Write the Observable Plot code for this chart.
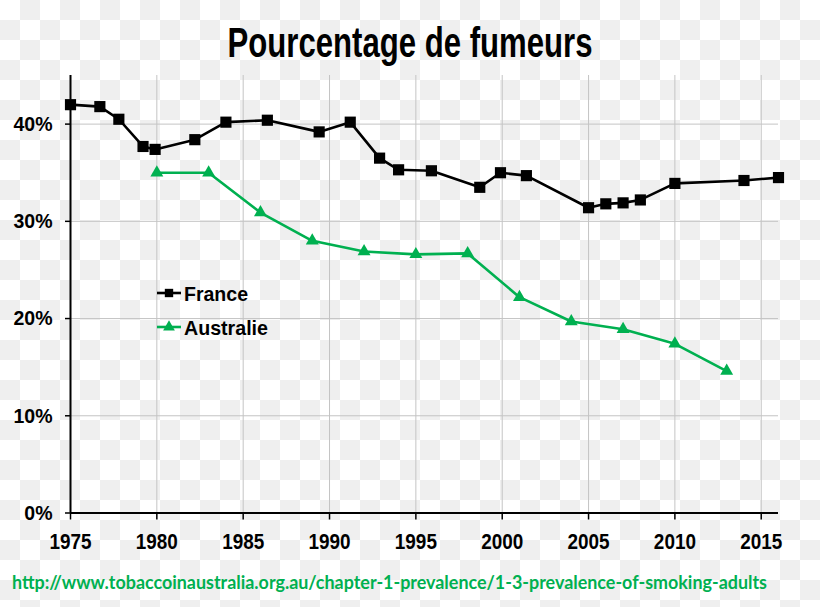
<!DOCTYPE html>
<html>
<head>
<meta charset="utf-8">
<script src="https://cdn.jsdelivr.net/npm/d3@7"></script>
<script src="https://cdn.jsdelivr.net/npm/@observablehq/plot@0.6"></script>
<style>
  html, body { margin: 0; padding: 0; }
  #wrap {
    position: relative; width: 820px; height: 607px; overflow: hidden;
    background-image: conic-gradient(#efefef 0 25%, #ffffff 0 50%, #efefef 0 75%, #ffffff 0);
    background-size: 40px 40px;
    font-family: "Liberation Sans", Arial, sans-serif;
  }
  #chart { position: absolute; left: 0; top: 60px; }
  #overlay { position: absolute; left: 0; top: 0; pointer-events: none; }
</style>
</head>
<body>
<div id="wrap">
  <div id="chart"></div>
  <svg id="overlay" width="820" height="607"></svg>
</div>
<script>
// ---- data ----
const franceYears  = [1975, 1976.7, 1977.8, 1979.2, 1979.9, 1982.2, 1984, 1986.4, 1989.4, 1991.2, 1992.9, 1994, 1995.9, 1998.7, 1999.9, 2001.4, 2005, 2006, 2007, 2008, 2010, 2014, 2016];
const franceValues = [42.0, 41.8, 40.5, 37.7, 37.4, 38.4, 40.2, 40.4, 39.2, 40.2, 36.5, 35.3, 35.2, 33.5, 35.0, 34.7, 31.4, 31.8, 31.9, 32.2, 33.9, 34.2, 34.5];
const ausYears  = [1980, 1983, 1986, 1989, 1992, 1995, 1998, 2001, 2004, 2007, 2010, 2013];
const ausValues = [35.0, 35.0, 30.9, 28.0, 26.9, 26.6, 26.7, 22.2, 19.7, 18.9, 17.4, 14.6];
const xTicks = [1975, 1980, 1985, 1990, 1995, 2000, 2005, 2010, 2015];
const yTicks = [0, 10, 20, 30, 40];
const seriesNames = ["France", "Australie"];
const titleText = "Pourcentage de fumeurs";
const sourceText = "http://www.tobaccoinaustralia.org.au/chapter-1-prevalence/1-3-prevalence-of-smoking-adults";

const GREEN = "#00b050";
const france = franceYears.map((y, i) => ({year: y, value: franceValues[i]}));
const aus = ausYears.map((y, i) => ({year: y, value: ausValues[i]}));

const plot = Plot.plot({
  width: 820,
  height: 500,
  marginTop: 15,
  marginBottom: 47.5,
  marginLeft: 70,
  marginRight: 42,
  style: {background: "transparent", fontFamily: "Liberation Sans, Arial, sans-serif", color: "black", overflow: "visible"},
  x: {domain: [1975, 2016]},
  y: {domain: [0, 45]},
  marks: [
    Plot.gridX(xTicks.slice(1), {stroke: "#c4c4c4", strokeOpacity: 1, strokeWidth: 1}),
    Plot.gridY(yTicks.slice(1), {stroke: "#c4c4c4", strokeOpacity: 1, strokeWidth: 1}),
    Plot.axisX(xTicks, {tickSize: 7, tickPadding: 13, tickFormat: d => String(d), fontSize: 22, fontWeight: "bold", strokeWidth: 1.5, label: null}),
    Plot.axisY(yTicks, {tickSize: 5, tickPadding: 13, tickFormat: d => d + "%", fontSize: 21, fontWeight: "bold", strokeWidth: 1.5, label: null}),
    Plot.ruleY([0], {stroke: "black", strokeWidth: 2}),
    Plot.ruleX([1975], {y1: 0, y2: 45, stroke: "black", strokeWidth: 2}),
    Plot.line(france, {x: "year", y: "value", stroke: "black", strokeWidth: 2.6}),
    Plot.dot(france, {x: "year", y: "value", symbol: "square", fill: "black", r: 6.3}),
    Plot.line(aus, {x: "year", y: "value", stroke: GREEN, strokeWidth: 2.6}),
    Plot.dot(aus, {x: "year", y: "value", symbol: "triangle", fill: GREEN, r: 4.8})
  ]
});
document.getElementById("chart").appendChild(plot);

// narrow the bold tick labels horizontally, like the reference's condensed font
function squeeze(sel, s) {
  plot.querySelectorAll(sel).forEach(t => {
    const tr = t.getAttribute("transform");
    if (tr) t.setAttribute("transform", tr + ` scale(${s},1)`);
    else {
      const x = t.getAttribute("x") || 0, y = t.getAttribute("y") || 0;
      t.removeAttribute("x"); t.removeAttribute("y");
      t.setAttribute("transform", `translate(${x},${y}) scale(${s},1)`);
    }
  });
}
squeeze('g[aria-label="x-axis tick label"] text', 0.86);
squeeze('g[aria-label="y-axis tick label"] text', 0.93);

// overlay: title, legend, source
const ov = d3.select("#overlay");
ov.append("text")
  .attr("x", 410).attr("y", 56.5).attr("text-anchor", "middle")
  .attr("font-family", "Liberation Sans, Arial, sans-serif")
  .attr("font-weight", "bold").attr("font-size", 42)
  .attr("textLength", 365).attr("lengthAdjust", "spacingAndGlyphs")
  .text(titleText);

const legend = [
  {name: seriesNames[0], color: "black", symbol: d3.symbolSquare, size: 70, y: 293, len: 64},
  {name: seriesNames[1], color: GREEN, symbol: d3.symbolTriangle, size: 60, y: 327, len: 84}
];
legend.forEach(l => {
  ov.append("line").attr("x1", 157).attr("x2", 181).attr("y1", l.y).attr("y2", l.y)
    .attr("stroke", l.color).attr("stroke-width", 2.6);
  ov.append("path").attr("d", d3.symbol(l.symbol, l.size)())
    .attr("transform", `translate(169,${l.y})`).attr("fill", l.color);
  ov.append("text").attr("x", 184).attr("y", l.y + 7.5)
    .attr("font-family", "Liberation Sans, Arial, sans-serif")
    .attr("font-weight", "bold").attr("font-size", 21)
    .attr("textLength", l.len).attr("lengthAdjust", "spacingAndGlyphs")
    .text(l.name);
});

ov.append("text")
  .attr("x", 12).attr("y", 589)
  .attr("font-family", "Lato, 'Open Sans', sans-serif")
  .attr("font-weight", "bold").attr("font-size", 19)
  .attr("fill", GREEN)
  .attr("textLength", 755).attr("lengthAdjust", "spacingAndGlyphs")
  .text(sourceText);
</script>
</body>
</html>
